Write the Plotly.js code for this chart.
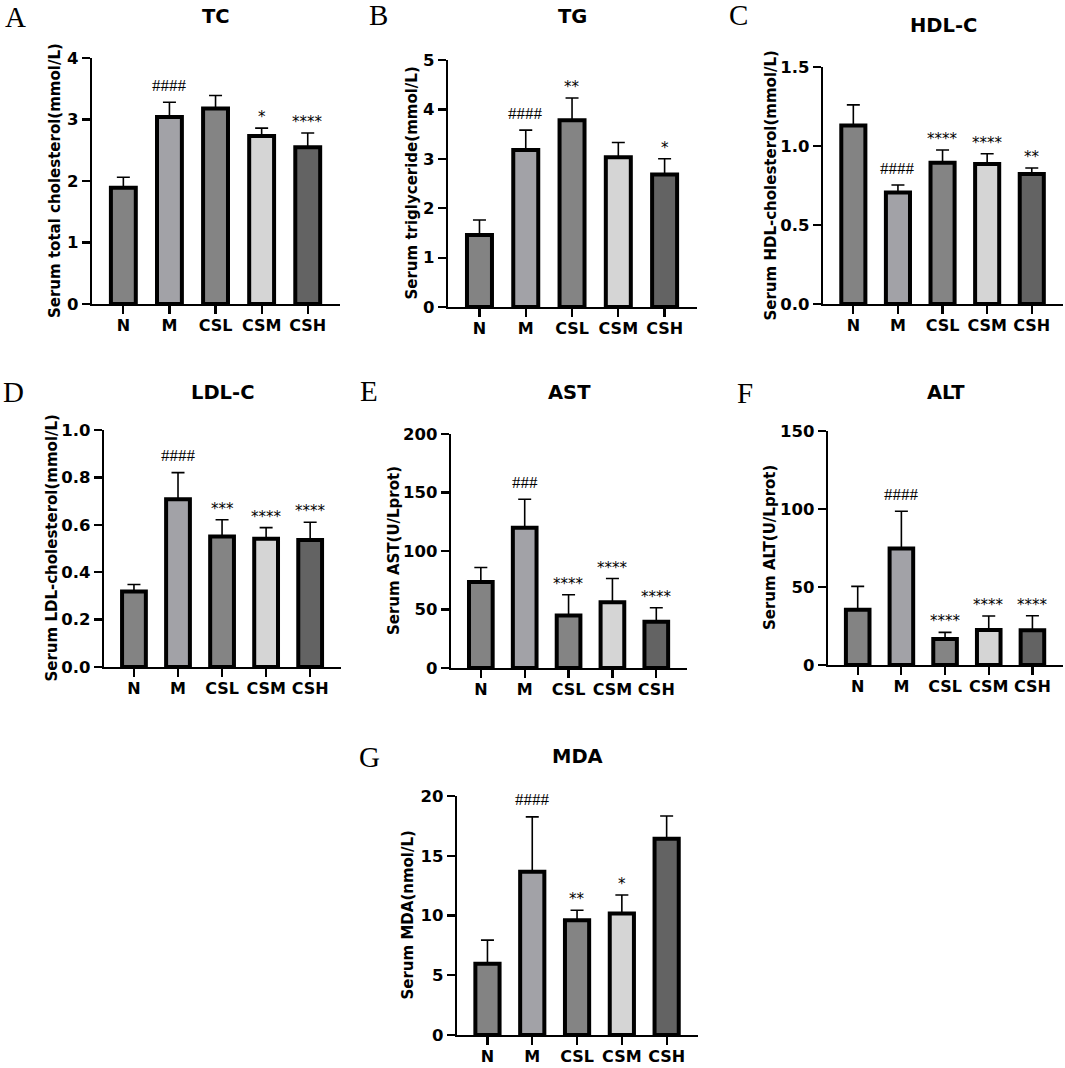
<!DOCTYPE html>
<html>
<head>
<meta charset="utf-8">
<script src="https://cdn.plot.ly/plotly-3.0.1.min.js"></script>
<style>
  body { margin: 0; background: #fff; }
  #chart { width: 1065px; height: 1068px; }
</style>
</head>
<body>
<div id="chart"></div>
<script>
// groups shared by every panel
const groups = ["N", "M", "CSL", "CSM", "CSH"];
const groupColors = ["#838383", "#a2a2a7", "#848484", "#d5d5d5", "#636363"];

// A  TC
const tcMean = [1.89, 3.04, 3.18, 2.73, 2.55];
const tcSd = [0.17, 0.24, 0.21, 0.13, 0.23];
const tcSig = ["", "####", "", "*", "****"];

// B  TG
const tgMean = [1.46, 3.18, 3.78, 3.03, 2.68];
const tgSd = [0.30, 0.40, 0.45, 0.30, 0.32];
const tgSig = ["", "####", "**", "", "*"];

// C  HDL-C
const hdlMean = [1.13, 0.705, 0.894, 0.886, 0.823];
const hdlSd = [0.13, 0.048, 0.081, 0.065, 0.038];
const hdlSig = ["", "####", "****", "****", "**"];

// D  LDL-C
const ldlMean = [0.319, 0.708, 0.551, 0.541, 0.536];
const ldlSd = [0.029, 0.112, 0.070, 0.047, 0.075];
const ldlSig = ["", "####", "***", "****", "****"];

// E  AST
const astMean = [73.4, 119.8, 44.9, 56.3, 39.5];
const astSd = [12.5, 24.4, 17.7, 20.2, 12.0];
const astSig = ["", "###", "****", "****", "****"];

// F  ALT
const altMean = [35.4, 74.7, 16.6, 22.4, 22.2];
const altSd = [15.0, 23.9, 4.3, 9.0, 9.4];
const altSig = ["", "####", "****", "****", "****"];

// G  MDA
const mdaMean = [5.97, 13.67, 9.61, 10.17, 16.42];
const mdaSd = [1.97, 4.58, 0.83, 1.55, 1.91];
const mdaSig = ["", "####", "**", "*", ""];

const W = 1065, H = 1068;
function px(x) { return x / W }
function py(y) { return 1 - y / H }

// panel boxes in page pixels: [left, right, top, bottom], title y, y-title x, letter pos
const panels = [
    { letter: "A", title: "TC", ytitle: "Serum total cholesterol(mmol/L)", mean: tcMean, sd: tcSd, sig: tcSig,
      box: [92, 340, 58, 304], titleY: 17, ytitleX: 55, letterXY: [15, 17], yr: [0, 4], dtick: 1, fmt: "" },
    { letter: "B", title: "TG", ytitle: "Serum triglyceride(mmol/L)", mean: tgMean, sd: tgSd, sig: tgSig,
      box: [448, 697, 60, 307], titleY: 17, ytitleX: 411, letterXY: [378, 15], yr: [0, 5], dtick: 1, fmt: "" },
    { letter: "C", title: "HDL-C", ytitle: "Serum HDL-cholesterol(mmol/L)", mean: hdlMean, sd: hdlSd, sig: hdlSig,
      box: [823, 1063, 67, 304], titleY: 25, ytitleX: 770, letterXY: [738, 15], yr: [0, 1.5], dtick: 0.5, fmt: ".1f" },
    { letter: "D", title: "LDL-C", ytitle: "Serum LDL-cholesterol(mmol/L)", mean: ldlMean, sd: ldlSd, sig: ldlSig,
      box: [104, 341, 430, 667], titleY: 392, ytitleX: 51, letterXY: [13, 392], yr: [0, 1], dtick: 0.2, fmt: ".1f" },
    { letter: "E", title: "AST", ytitle: "Serum AST(U/Lprot)", mean: astMean, sd: astSd, sig: astSig,
      box: [451, 687, 434, 668], titleY: 393, ytitleX: 394, letterXY: [369, 391], yr: [0, 200], dtick: 50, fmt: "" },
    { letter: "F", title: "ALT", ytitle: "Serum ALT(U/Lprot)", mean: altMean, sd: altSd, sig: altSig,
      box: [828, 1063, 431, 665], titleY: 392, ytitleX: 770, letterXY: [745, 393], yr: [0, 150], dtick: 50, fmt: "" },
    { letter: "G", title: "MDA", ytitle: "Serum MDA(nmol/L)", mean: mdaMean, sd: mdaSd, sig: mdaSig,
      box: [457, 698, 796, 1035], titleY: 756, ytitleX: 407, letterXY: [369, 757], yr: [0, 20], dtick: 5, fmt: "" }
];

const sans = "'DejaVu Sans', sans-serif";
const serif = "'Times New Roman', 'Liberation Serif', serif";

let traces = [];
let annotations = [];
let layout = {
    width: W, height: H,
    margin: { l: 0, r: 0, t: 0, b: 0 },
    paper_bgcolor: "#fff",
    plot_bgcolor: "rgba(0,0,0,0)",
    showlegend: false,
    bargap: 0.46
};

panels.forEach((p, i) => {
    const n = i === 0 ? "" : String(i + 1);
    const [l, r, t, b] = p.box;

    traces.push({
        type: "bar",
        x: groups,
        y: p.mean,
        xaxis: "x" + n,
        yaxis: "y" + n,
        marker: { color: groupColors, line: { color: "#000", width: 4 } },
        error_y: {
            type: "data", symmetric: false,
            array: p.sd, arrayminus: p.sd.map(() => 0),
            color: "#000", thickness: 1.6, width: 6.5
        },
        hoverinfo: "skip"
    });

    layout["xaxis" + n] = {
        domain: [px(l), px(r)],
        anchor: "y" + n,
        range: [-0.68, 4.7],
        showline: true, linecolor: "#000", linewidth: 2.2,
        ticks: "outside", ticklen: 8, tickwidth: 2.2, tickcolor: "#000",
        ticklabelstandoff: -2,
        showgrid: false, zeroline: false,
        tickfont: { family: sans, size: 16, color: "#000", weight: "bold" }
    };
    layout["yaxis" + n] = {
        domain: [py(b), py(t)],
        anchor: "x" + n,
        range: p.yr,
        dtick: p.dtick, tick0: 0,
        tickformat: p.fmt,
        showline: true, linecolor: "#000", linewidth: 2.2,
        ticks: "outside", ticklen: 8, tickwidth: 2.2, tickcolor: "#000",
        showgrid: false, zeroline: false,
        tickfont: { family: sans, size: 16.5, color: "#000", weight: "bold" }
    };

    // y-axis title
    annotations.push({
        xref: "paper", yref: "paper", x: px(p.ytitleX), y: py((t + b) / 2),
        text: "<b>" + p.ytitle + "</b>", showarrow: false, textangle: -90,
        xanchor: "center", yanchor: "middle",
        font: { family: sans, size: 15, color: "#000" }
    });
    // panel title
    annotations.push({
        xref: "paper", yref: "paper", x: px((l + r) / 2), y: py(p.titleY),
        text: "<b>" + p.title + "</b>", showarrow: false,
        xanchor: "center", yanchor: "middle",
        font: { family: sans, size: 19.5, color: "#000" }
    });
    // panel letter
    annotations.push({
        xref: "paper", yref: "paper", x: px(p.letterXY[0]), y: py(p.letterXY[1]),
        text: p.letter, showarrow: false,
        xanchor: "center", yanchor: "middle",
        font: { family: serif, size: 29, color: "#000" }
    });
    // significance marks
    p.sig.forEach((s, k) => {
        if (!s) return;
        const hash = s[0] === "#";
        annotations.push({
            xref: "x" + n, yref: "y" + n,
            x: groups[k], y: p.mean[k] + p.sd[k],
            text: s, showarrow: false,
            xanchor: "center", yanchor: "middle",
            yshift: hash ? 17 : 11,
            font: hash ? { family: serif, size: 17, color: "#000" } : { family: sans, size: 15, color: "#000" }
        });
    });
});

layout.annotations = annotations;

Plotly.newPlot("chart", traces, layout, { staticPlot: true });
</script>
</body>
</html>
